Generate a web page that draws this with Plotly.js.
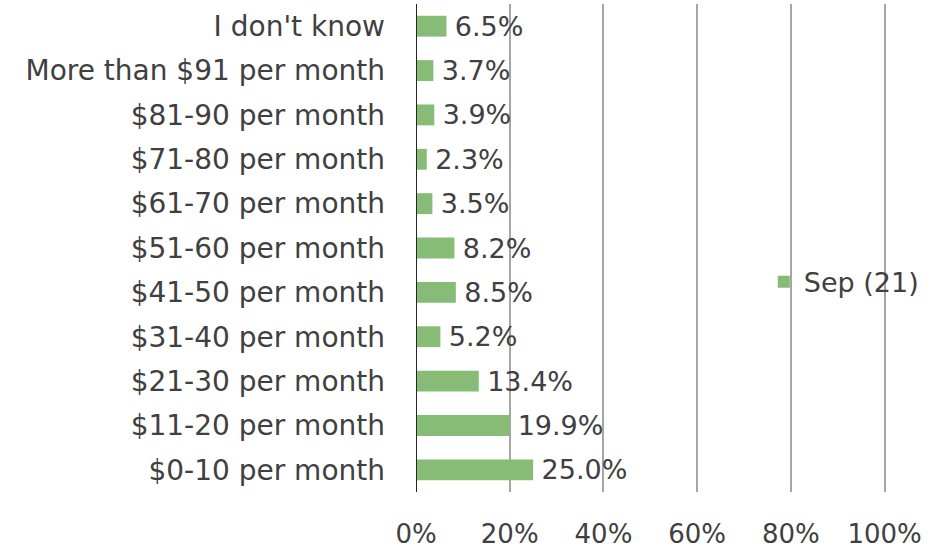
<!DOCTYPE html>
<html>
<head>
<meta charset="utf-8">
<script src="https://cdn.plot.ly/plotly-3.0.1.min.js"></script>
<style>
html,body{margin:0;padding:0;background:#fff;}
#chart{width:947px;height:548px;}
</style>
</head>
<body>
<div id="chart"></div>
<script>
const categories = [
  "$0-10 per month",
  "$11-20 per month",
  "$21-30 per month",
  "$31-40 per month",
  "$41-50 per month",
  "$51-60 per month",
  "$61-70 per month",
  "$71-80 per month",
  "$81-90 per month",
  "More than $91 per month",
  "I don't know"
];
const sep21 = [25.0, 19.9, 13.4, 5.2, 8.5, 8.2, 3.5, 2.3, 3.9, 3.7, 6.5];
const seriesName = "Sep (21)";
const xTickVals = [0, 20, 40, 60, 80, 100];
const xTickText = ["0%", "20%", "40%", "60%", "80%", "100%"];

const FONT = "'DejaVu Sans', sans-serif";
const TXT = "#404040";

const trace = {
  type: "bar",
  orientation: "h",
  name: seriesName,
  y: categories,
  x: sep21,
  marker: {color: "#86bc76"},
  width: 0.47,
  text: sep21.map(v => "\u2009" + v.toFixed(1) + "%"),
  textposition: "outside",
  constraintext: "none",
  textfont: {family: FONT, size: 27, color: TXT},
  cliponaxis: false,
  hoverinfo: "skip"
};

const layout = {
  width: 947,
  height: 548,
  margin: {l: 416, r: 61, t: 4, b: 56},
  paper_bgcolor: "#ffffff",
  plot_bgcolor: "#ffffff",
  font: {family: FONT, size: 27, color: TXT},
  showlegend: true,
  legend: {
    x: 0.74, y: 0.43, xanchor: "left", yanchor: "middle",
    bgcolor: "rgba(0,0,0,0)",
    font: {family: FONT, size: 27, color: TXT},
    itemwidth: 30
  },
  xaxis: {
    range: [0, 100.3],
    tickvals: xTickVals,
    ticktext: xTickText,
    showgrid: true,
    gridcolor: "#a6a6a6",
    gridwidth: 2,
    zeroline: false,
    showline: false,
    ticks: "",
    ticklabelstandoff: 24,
    tickfont: {family: FONT, size: 26, color: TXT},
    fixedrange: true
  },
  yaxis: {
    type: "category",
    categoryorder: "array",
    categoryarray: categories,
    showgrid: false,
    zeroline: false,
    showline: false,
    ticks: "",
    ticklabelstandoff: 30,
    tickfont: {family: FONT, size: 28, color: TXT},
    fixedrange: true
  },
  shapes: [{
    type: "line", xref: "x", yref: "paper",
    x0: 0, x1: 0, y0: 0, y1: 1,
    line: {color: "#262626", width: 2}
  }],
  bargap: 0.5
};

Plotly.newPlot("chart", [trace], layout, {displayModeBar: false, staticPlot: true});
</script>
</body>
</html>
